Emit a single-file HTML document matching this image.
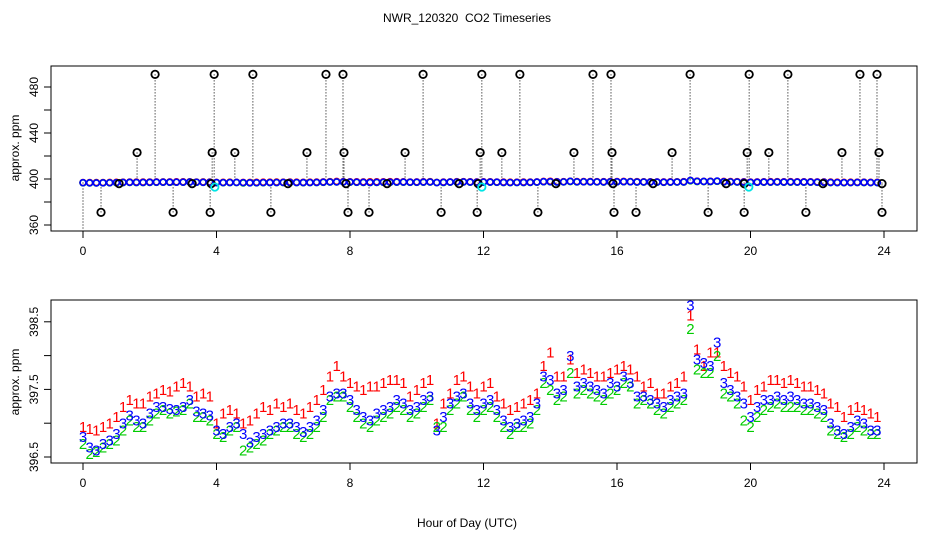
<!DOCTYPE html>
<html><head><meta charset="utf-8"><style>
html,body{margin:0;padding:0;background:#fff;}
svg{display:block;font-family:"Liberation Sans",Arial,sans-serif;}
</style></head><body>
<svg id="chart" width="936" height="540" viewBox="0 0 936 540">
<rect width="936" height="540" fill="#fff"/>
<text x="467" y="22" font-size="12" text-anchor="middle">NWR_120320 &#160;CO2 Timeseries</text>
<text x="467" y="527" font-size="12" text-anchor="middle">Hour of Day (UTC)</text>
<text transform="translate(19,148) rotate(-90)" font-size="12" text-anchor="middle">approx. ppm</text>
<text transform="translate(19,382) rotate(-90)" font-size="12" text-anchor="middle">approx. ppm</text>
<g id="topPanel"></g>
<g id="botPanel"></g>
</svg>
<script>
// ---- data ----
const hours = [];
for (let i = 0; i < 120; i++) hours.push(Math.round(i * 2) / 10);
const series3 = [
396.80,396.65,396.60,396.70,396.75,396.85,397.00,397.12,397.05,397.00,397.15,397.25,397.25,397.22,397.20,397.25,397.35,397.18,397.15,397.12,
396.90,396.85,396.95,397.00,396.85,396.72,396.80,396.85,396.90,396.95,397.00,397.00,396.95,396.88,396.95,397.05,397.20,397.40,397.45,397.45,
397.35,397.20,397.10,397.05,397.15,397.20,397.25,397.35,397.30,397.20,397.25,397.35,397.40,396.90,397.10,397.30,397.40,397.45,397.30,397.20,
397.30,397.35,397.20,397.05,396.95,397.00,397.05,397.10,397.30,397.70,397.65,397.45,397.50,398.00,397.55,397.60,397.55,397.50,397.45,397.60,
397.55,397.70,397.60,397.40,397.40,397.35,397.30,397.25,397.35,397.40,397.45,398.75,397.95,397.90,397.85,398.20,397.60,397.50,397.40,397.30,
397.10,397.25,397.35,397.35,397.40,397.35,397.40,397.35,397.30,397.30,397.25,397.20,397.00,396.90,396.85,396.95,397.05,397.00,396.90,396.90];
const series1 = [
396.95,396.92,396.90,396.95,397.00,397.10,397.25,397.35,397.30,397.30,397.40,397.45,397.50,397.48,397.55,397.60,397.55,397.40,397.45,397.40,
397.00,397.15,397.20,397.15,397.00,397.05,397.15,397.25,397.20,397.30,397.25,397.30,397.20,397.15,397.25,397.35,397.50,397.70,397.85,397.70,
397.60,397.55,397.50,397.55,397.55,397.60,397.65,397.65,397.60,397.40,397.50,397.60,397.65,397.00,397.30,397.45,397.65,397.70,397.55,397.45,
397.55,397.60,397.40,397.30,397.20,397.25,397.30,397.35,397.45,397.85,398.05,397.70,397.70,397.95,397.75,397.80,397.75,397.70,397.70,397.75,
397.80,397.85,397.80,397.70,397.55,397.60,397.45,397.45,397.55,397.60,397.70,398.60,398.10,397.85,398.05,398.05,397.85,397.75,397.70,397.55,
397.35,397.50,397.55,397.65,397.65,397.60,397.65,397.60,397.55,397.55,397.50,397.45,397.30,397.25,397.10,397.20,397.25,397.20,397.15,397.10];
const series2 = [
396.70,396.55,396.58,396.65,396.70,396.75,396.90,397.05,396.95,396.95,397.05,397.15,397.20,397.15,397.18,397.20,397.30,397.10,397.10,397.05,
396.85,396.80,396.90,396.95,396.60,396.65,396.70,396.75,396.85,396.90,396.95,396.95,396.85,396.80,396.85,396.95,397.10,397.35,397.40,397.40,
397.25,397.10,397.00,396.95,397.05,397.10,397.15,397.25,397.20,397.10,397.15,397.25,397.35,396.95,396.95,397.20,397.30,397.40,397.20,397.10,
397.20,397.25,397.10,396.95,396.85,396.95,396.95,397.00,397.20,397.60,397.50,397.35,397.40,397.75,397.45,397.50,397.45,397.40,397.35,397.45,
397.50,397.60,397.55,397.30,397.35,397.30,397.20,397.15,397.25,397.30,397.35,398.40,397.80,397.75,397.75,398.00,397.45,397.40,397.30,397.05,
396.95,397.10,397.20,397.25,397.30,397.25,397.25,397.25,397.20,397.20,397.15,397.10,396.90,396.85,396.80,396.85,396.95,396.90,396.85,396.85];
const flagHours = [2.16,3.93,5.09,7.28,7.79,10.19,11.95,13.09,15.28,15.82,18.19,19.96,21.12,23.28,23.79,
1.62,3.87,4.55,6.71,7.82,9.65,11.90,12.55,14.71,15.85,17.65,19.90,20.55,22.74,23.85,
0.54,2.70,3.81,5.63,7.94,8.57,10.73,11.81,13.63,15.91,16.57,18.73,19.81,21.66,23.94,
1.08,3.27,3.84,6.14,7.88,9.11,11.27,11.84,14.17,15.88,17.08,19.27,19.81,22.17,23.94];
const flagValues = [491,491,491,491,491,491,491,491,491,491,491,491,491,491,491,
423,423,423,423,423,423,423,423,423,423,423,423,423,423,423,
371,371,371,371,371,371,371,371,371,371,371,371,371,371,371,
396,396,396,396,396,396,396,396,396,396,396,396,396,396,396];
const cyanHours = [3.95,11.95,19.95];
const cyanValues = [393,393,393];
const xTicks = [0,4,8,12,16,20,24];
const topYTicks = [360,380,400,420,440,460,480];
const topYLabels = [360,400,440,480];
const botYTicks = [396.5,397,397.5,398,398.5];
const botYLabels = ["396.5","397.5","398.5"];

// ---- scales ----
const X0 = 51, X1 = 917;
const xs = h => 83 + h * 33.375;
const ysTop = v => 179 - (v - 400) * 1.15;
const ysBot = v => 457 - (v - 396.5) * 67.6;
const NS = "http://www.w3.org/2000/svg";
function mk(parent, tag, attrs) {
  const e = document.createElementNS(NS, tag);
  for (const k in attrs) e.setAttribute(k, attrs[k]);
  parent.appendChild(e);
  return e;
}
const topG = document.getElementById('topPanel');
const botG = document.getElementById('botPanel');

function frame(g, y0, y1, name) {
  const r = mk(g, 'rect', {x: X0, y: y0, width: X1 - X0, height: y1 - y0, fill: 'none', stroke: '#000', 'stroke-width': 1});
  
  
  xTicks.forEach(t => {
    const l = mk(g, 'line', {x1: xs(t), x2: xs(t), y1: y1, y2: y1 + 7, stroke: '#000'});
    
    
    const tx = mk(g, 'text', {x: xs(t), y: y1 + 24, 'font-size': 12, 'text-anchor': 'middle'});
    tx.textContent = t;
    
    
  });
}
frame(topG, 66, 231, 'top');
frame(botG, 300, 463, 'bottom');

topYTicks.forEach(v => {
  const l = mk(topG, 'line', {x1: 44, x2: X0, y1: ysTop(v), y2: ysTop(v), stroke: '#000'});
  
  
});
topYLabels.forEach(v => {
  const t = mk(topG, 'text', {transform: `translate(38,${ysTop(v)}) rotate(-90)`, 'font-size': 12, 'text-anchor': 'middle'});
  t.textContent = v;
  
  
});
botYTicks.forEach(v => {
  const l = mk(botG, 'line', {x1: 44, x2: X0, y1: ysBot(v), y2: ysBot(v), stroke: '#000'});
  
  
});
botYLabels.forEach(s => {
  const t = mk(botG, 'text', {transform: `translate(38,${ysBot(parseFloat(s))}) rotate(-90)`, 'font-size': 12, 'text-anchor': 'middle'});
  t.textContent = s;
  
  
});

// top: flagged points with dotted drop lines
flagHours.forEach((h, i) => {
  const v = flagValues[i];
  const l = mk(topG, 'line', {x1: xs(h), x2: xs(h), y1: ysTop(v), y2: ysTop(397), stroke: '#000', 'stroke-dasharray': '1,2'});
  
  
});
const zl = mk(topG, 'line', {x1: xs(0), x2: xs(0), y1: ysTop(397), y2: 237, stroke: '#000', 'stroke-dasharray': '1,2'});



const cols = [['#ff0000', series1, 'series-1'], ['#00cc00', series2, 'series-2'], ['#0000ff', series3, 'series-3']];
cols.forEach(([c, s, n]) => {
  s.forEach((v, i) => {
    const p = mk(topG, 'circle', {cx: xs(hours[i]), cy: ysTop(v), r: 3, fill: 'none', stroke: c, 'stroke-width': 1.6});
    
    
  });
});
flagHours.forEach((h, i) => {
  const p = mk(topG, 'circle', {cx: xs(h), cy: ysTop(flagValues[i]), r: 3.7, fill: 'none', stroke: '#000', 'stroke-width': 1.8});
  
  
});
cyanHours.forEach((h, i) => {
  const p = mk(topG, 'circle', {cx: xs(h), cy: ysTop(cyanValues[i]), r: 3.7, fill: 'none', stroke: '#00e5e5', 'stroke-width': 1.8});
  
  
});

// bottom: character markers
cols.forEach(([c, s, n], k) => {
  s.forEach((v, i) => {
    const t = mk(botG, 'text', {x: xs(hours[i]), y: ysBot(v) + 5.5, fill: c, 'font-size': 15, 'text-anchor': 'middle'});
    t.textContent = String(k + 1);
    
    
  });
});
</script>
</body></html>
